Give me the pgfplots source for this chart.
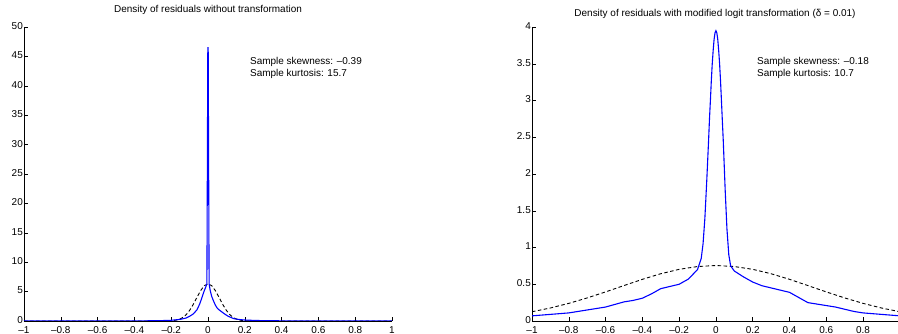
\documentclass[border=0pt]{standalone}
\usepackage{fontspec}
\setmainfont{Liberation Sans}
\usepackage{pgfplots}
\pgfplotsset{compat=1.18}

\pgfplotsset{
  resid/.style={
    scale only axis,
    height=294bp,
    axis x line*=bottom,
    axis y line*=left,
    axis line style={-, line width=0.6pt},
    tick align=inside,
    major tick length=3.5bp,
    tick style={black, line width=0.5pt},
    ymin=0,
    xmin=-1,
    xtick={-1,-0.8,-0.6,-0.4,-0.2,0,0.2,0.4,0.6,0.8,1},
    xticklabels={–1,–0.8,–0.6,–0.4,–0.2,0,0.2,0.4,0.6,0.8,1},
    every tick label/.append style={font=\fontsize{10}{11}\selectfont},
    /pgf/number format/assume math mode=true,
    xticklabel style={anchor=base, yshift=-12.3bp, inner sep=0pt},
    yticklabel style={xshift=0.5bp, yshift=1bp, inner sep=1.5bp},
    clip mode=individual,
  },
  kde/.style={blue, line width=1.1pt},
  normal/.style={black, line width=0.9pt, dash pattern=on 3.5bp off 2.5bp},
}

\begin{document}
\begin{tikzpicture}
\useasboundingbox (0,0) rectangle (898bp,334bp);

% residuals on the original scale
\begin{axis}[resid,
  at={(24bp,13bp)}, anchor=south west,
  width=368bp, xmax=1, ymax=50,
  ytick={0,5,10,15,20,25,30,35,40,45,50},
  yticklabels={0,5,10,15,20,25,30,35,40,45,50},
]
\addplot[normal] coordinates {
 (-1,0) (-0.3,0) (-0.25,0.002) (-0.2,0.041) (-0.18,0.107) (-0.16,0.25) (-0.14,0.54)
 (-0.12,1.03) (-0.1,1.80) (-0.08,2.83) (-0.06,4.02) (-0.04,5.17) (-0.02,6.02) (0,6.33)
 (0.02,6.02) (0.04,5.17) (0.06,4.02) (0.08,2.83) (0.1,1.80) (0.12,1.03) (0.14,0.54)
 (0.16,0.25) (0.18,0.107) (0.2,0.041) (0.25,0.002) (0.3,0) (1,0)
};
\addplot[kde] coordinates {
 (-1,0) (-0.6,0.005) (-0.4,0.02) (-0.3,0.04) (-0.25,0.07) (-0.2,0.12) (-0.15,0.28)
 (-0.12,0.5) (-0.1,0.8) (-0.08,1.2) (-0.06,1.9) (-0.045,2.9) (-0.035,3.8) (-0.022,5.0)
 (-0.012,5.8) (-0.006,6.3) (-0.001,46.5) (0.001,46.5) (0.006,6.3) (0.012,5.2) (0.02,4.2) (0.03,3.4)
 (0.04,2.7) (0.05,2.2) (0.06,1.9) (0.075,1.55) (0.09,1.2) (0.11,0.8) (0.14,0.4)
 (0.17,0.25) (0.2,0.17) (0.25,0.1) (0.3,0.06) (0.4,0.03) (0.6,0.01) (1,0)
};
\node[font=\fontsize{10}{11}\selectfont] at (rel axis cs:0.5,1) [yshift=17bp] {Density of residuals without transformation};
\node[anchor=west, align=left, font=\fontsize{10}{12}\selectfont] at (axis cs:0.21,43)
  {Sample skewness: –0.39\\Sample kurtosis: 15.7};
\end{axis}

% residuals after the modified logit transformation
\begin{axis}[resid,
  at={(532bp,13bp)}, anchor=south west,
  width=366bp, xmax=0.99, ymax=4,
  ytick={0,0.5,1,1.5,2,2.5,3,3.5,4},
  yticklabels={0,0.5,1,1.5,2,2.5,3,3.5,4},
]
\addplot[normal] coordinates {
 (-1,0.126) (-0.9,0.177) (-0.8,0.240) (-0.7,0.314) (-0.6,0.396) (-0.5,0.482)
 (-0.4,0.567) (-0.3,0.643) (-0.2,0.703) (-0.1,0.741) (0,0.755) (0.1,0.741)
 (0.2,0.703) (0.3,0.643) (0.4,0.567) (0.5,0.482) (0.6,0.396) (0.7,0.314)
 (0.8,0.240) (0.9,0.177) (1,0.126)
};
\addplot[kde] coordinates {
 (-1,0.07) (-0.9,0.09) (-0.8,0.11) (-0.7,0.15) (-0.6,0.19) (-0.5,0.26) (-0.45,0.28)
 (-0.4,0.31) (-0.35,0.37) (-0.3,0.44) (-0.25,0.47) (-0.2,0.50) (-0.15,0.57) (-0.1,0.70)
 (-0.08,0.85) (-0.07,1.05) (-0.06,1.4) (-0.05,1.9) (-0.04,2.45) (-0.035,2.75) (-0.03,3.0)
 (-0.025,3.27) (-0.02,3.5) (-0.015,3.68) (-0.01,3.83) (-0.005,3.92) (0,3.95)
 (0.005,3.92) (0.01,3.83) (0.015,3.68) (0.02,3.5) (0.025,3.27) (0.03,3.0) (0.035,2.72)
 (0.04,2.45) (0.05,1.8) (0.06,1.25) (0.07,0.9) (0.08,0.75) (0.1,0.68) (0.15,0.6)
 (0.2,0.53) (0.25,0.48) (0.3,0.45) (0.35,0.42) (0.4,0.39) (0.45,0.32) (0.5,0.25)
 (0.55,0.23) (0.6,0.21) (0.65,0.19) (0.7,0.16) (0.75,0.13) (0.8,0.11) (0.9,0.09) (1,0.07)
};
\node[font=\fontsize{10}{11}\selectfont] at (rel axis cs:0.5,1) [yshift=13bp] {Density of residuals with modified logit transformation (δ = 0.01)};
\node[anchor=west, align=left, font=\fontsize{10}{12}\selectfont] at (axis cs:0.205,3.44)
  {Sample skewness: –0.18\\Sample kurtosis: 10.7};
\end{axis}
\end{tikzpicture}
\end{document}
